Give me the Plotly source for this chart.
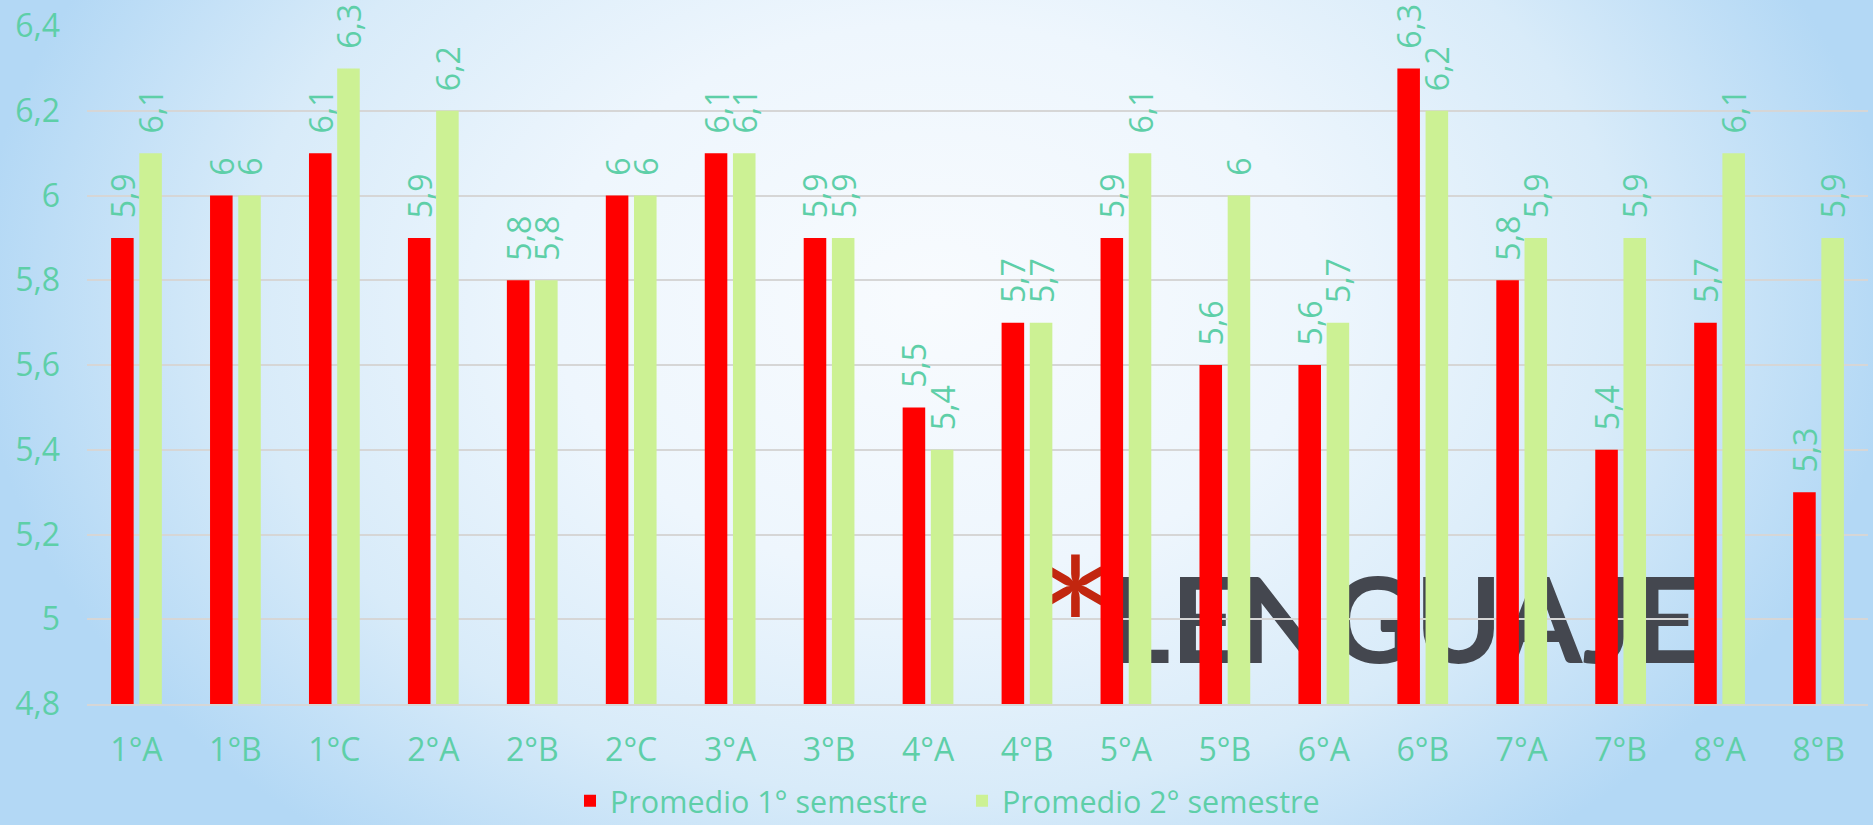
import base64
import plotly.graph_objects as go

# ---------------- data ----------------
categories = ["1°A", "1°B", "1°C", "2°A", "2°B", "2°C", "3°A", "3°B", "4°A",
              "4°B", "5°A", "5°B", "6°A", "6°B", "7°A", "7°B", "8°A", "8°B"]
sem1 = [5.9, 6.0, 6.1, 5.9, 5.8, 6.0, 6.1, 5.9, 5.5, 5.7, 5.9, 5.6, 5.6, 6.3, 5.8, 5.4, 5.7, 5.3]
sem2 = [6.1, 6.0, 6.3, 6.2, 5.8, 6.0, 6.1, 5.9, 5.4, 5.7, 6.1, 6.0, 5.7, 6.2, 5.9, 5.9, 6.1, 5.9]
series_names = ["Promedio 1° semestre", "Promedio 2° semestre"]
y_tickvals = [4.8, 5.0, 5.2, 5.4, 5.6, 5.8, 6.0, 6.2, 6.4]
y_ticktext = ["4,8", "5", "5,2", "5,4", "5,6", "5,8", "6", "6,2", "6,4"]
y_base = 4.8
title_star = "*"
title_word = "LENGUAJE"

# ---------------- style ----------------
W, H = 1873, 825
ML, MR, MT, MB = 87, 5, 26, 121
TEAL = "#5ecfa8"
FONT = "Open Sans"
bar_colors = ["#ff0000", "#ccf194"]
PAD = "\u00a0\u00a0"  # lifts the rotated value labels off the bar tops

def fmt(v):
    return f"{v:g}".replace(".", ",")

# background gradient (decoration only)
svg = f'''<svg xmlns="http://www.w3.org/2000/svg" width="{W}" height="{H}" viewBox="0 0 {W} {H}" preserveAspectRatio="none">
<defs>
<radialGradient id="g" gradientUnits="userSpaceOnUse" cx="936" cy="300" r="960"
 gradientTransform="translate(936 300) scale(1 0.72) translate(-936 -300)">
<stop offset="0" stop-color="#f8fbfe"/>
<stop offset="0.4" stop-color="#eef6fd"/>
<stop offset="0.72" stop-color="#d8ebf9"/>
<stop offset="1" stop-color="#b3d8f5"/>
</radialGradient>
</defs>
<rect width="{W}" height="{H}" fill="url(#g)"/>
</svg>'''
src = "data:image/svg+xml;base64," + base64.b64encode(svg.encode()).decode()

fig = go.Figure()
for name, vals, col in zip(series_names, [sem1, sem2], bar_colors):
    fig.add_trace(go.Bar(
        x=categories,
        y=[round(v - y_base, 3) for v in vals],
        base=y_base,
        name=name,
        marker=dict(color=col, line=dict(width=0)),
        text=[PAD + fmt(v) for v in vals],
        textposition="outside",
        textangle=-90,
        textfont=dict(size=32, color=TEAL, family=FONT),
        cliponaxis=False,
        constraintext="none",
        hovertext=[fmt(v) for v in vals],
        hoverinfo="text+name",
    ))

pw = W - ML - MR
ph = H - MT - MB

fig.update_layout(
    width=W, height=H, autosize=False,
    margin=dict(l=ML, r=MR, t=MT, b=MB, pad=0, autoexpand=False),
    paper_bgcolor="#dcecf9",
    plot_bgcolor="rgba(0,0,0,0)",
    barmode="group", bargap=0.43, bargroupgap=0.2,
    font=dict(family=FONT, color=TEAL, size=32),
    xaxis=dict(showgrid=False, zeroline=False, showline=True, linecolor="#d6d6d6",
               linewidth=2, ticks="", tickfont=dict(size=32, color=TEAL),
               ticklabelstandoff=17, automargin=False),
    yaxis=dict(range=[4.8, 6.4], tickvals=y_tickvals, ticktext=y_ticktext,
               gridcolor="#d6d6d6", gridwidth=2, zeroline=False, showline=False,
               ticks="", tickfont=dict(size=32, color=TEAL), ticklabelstandoff=26,
               automargin=False),
    legend=dict(orientation="h", xref="container", yref="container",
                x=570 / W, xanchor="left", y=1 - 801 / H, yanchor="middle",
                font=dict(size=30.5, color=TEAL), bgcolor="rgba(0,0,0,0)",
                entrywidth=347, entrywidthmode="pixels"),
    images=[dict(source=src, xref="paper", yref="paper",
                 x=-ML / pw, y=1 + MT / ph, sizex=W / pw, sizey=H / ph,
                 sizing="stretch", xanchor="left", yanchor="top", layer="below")],
)

# slide title behind the bars
fig.add_shape(type="rect", xref="paper", yref="paper", x0=0.54, x1=0.94, y0=0.05, y1=0.21,
              layer="below", line=dict(width=0), fillcolor="rgba(0,0,0,0)",
              label=dict(text=title_word, textposition="middle center",
                         font=dict(size=118, color="#44474f", family="Lato", weight=700)))
fig.add_shape(type="rect", xref="paper", yref="paper", x0=0.50, x1=0.61, y0=0.02, y1=0.22,
              layer="below", line=dict(width=0), fillcolor="rgba(0,0,0,0)",
              label=dict(text=title_star, textposition="middle center",
                         font=dict(size=195, color="#c2260f", family="Lato")))

fig.write_html("out.html", config={"displayModeBar": False},
               post_script="document.body.style.margin='0';")
